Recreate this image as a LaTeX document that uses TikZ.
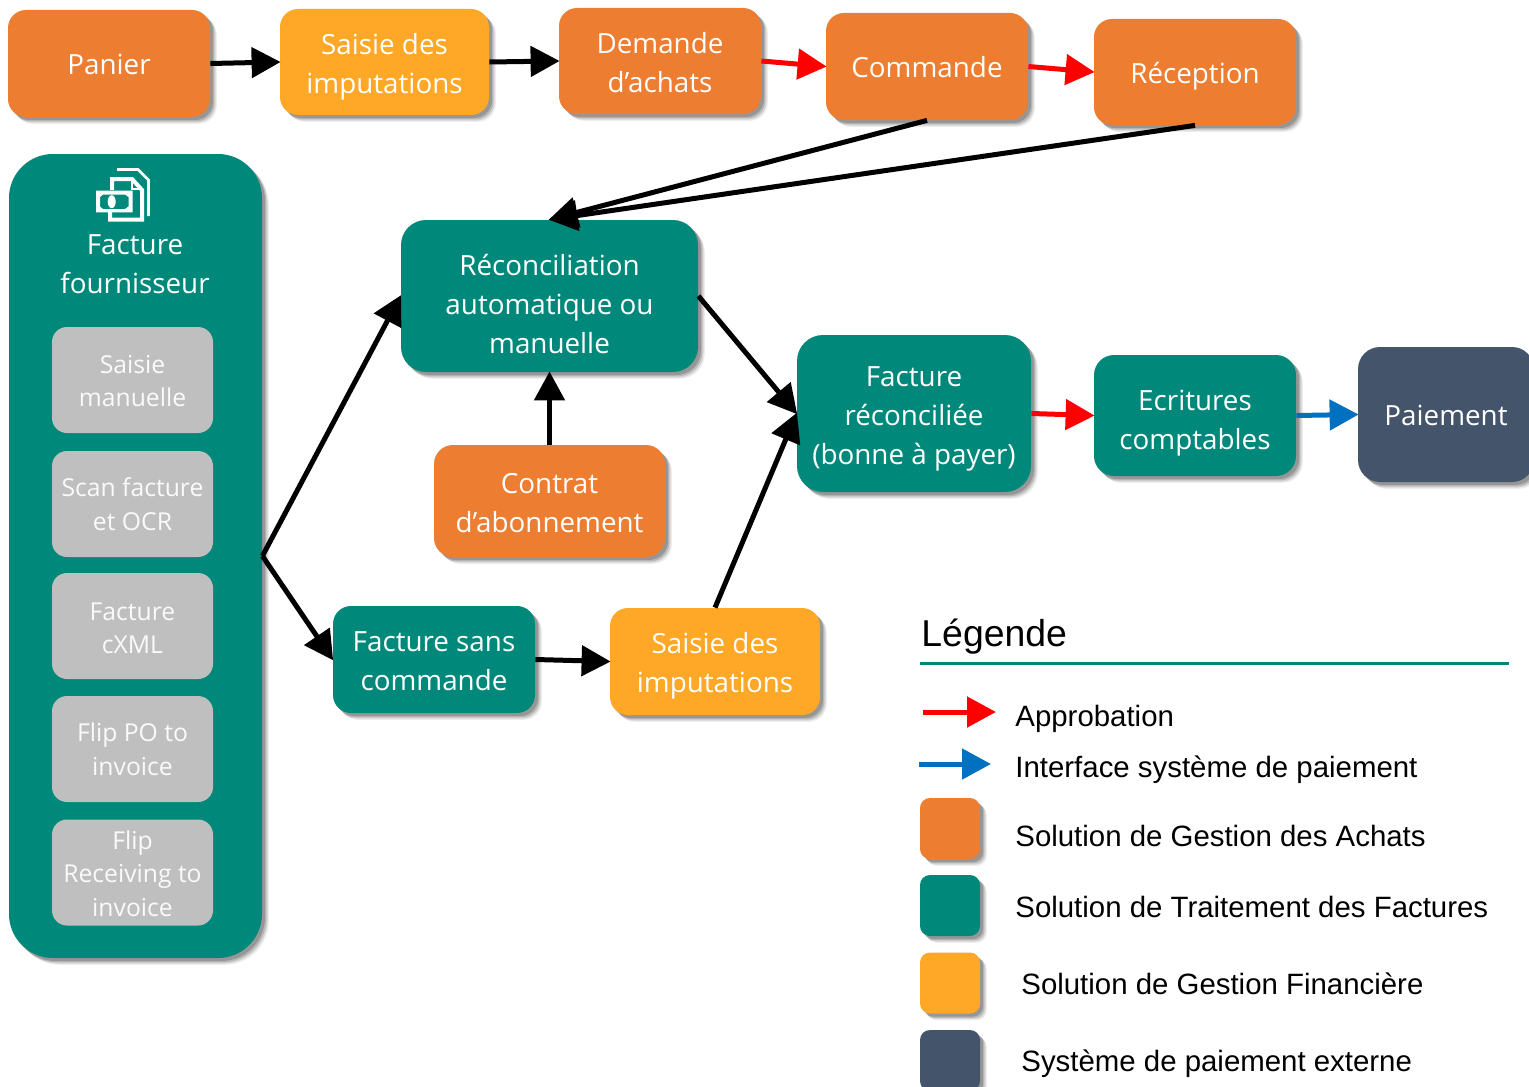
\documentclass[tikz,border=0pt]{standalone}
\usepackage{fontspec}
\setmainfont{Open Sans}
\newfontfamily\legfont{Liberation Sans}
\usetikzlibrary{arrows.meta,shadows}
\definecolor{achat}{HTML}{ED7D31}
\definecolor{trait}{HTML}{00897A}
\definecolor{fina}{HTML}{FFA726}
\definecolor{ext}{HTML}{44546A}
\definecolor{gris}{HTML}{BFBFBF}
\definecolor{bleu}{HTML}{0070C0}
\newcommand{\dn}[2]{\raisebox{-#1}[\height][\depth]{\begin{tabular}{@{}c@{}}#2\end{tabular}}}
\tikzset{
	soft/.style={drop shadow={shadow xshift=3.4pt,shadow yshift=-3.4pt,opacity=.07,fill=black},drop shadow={shadow xshift=2.8pt,shadow yshift=-2.8pt,opacity=.1,fill=black},drop shadow={shadow xshift=2.2pt,shadow yshift=-2.2pt,opacity=.14,fill=black},drop shadow={shadow xshift=1.5pt,shadow yshift=-1.5pt,opacity=.18,fill=black}},
	box/.style={soft,rounded corners=9pt,align=center,text=white,inner sep=0pt,font=\fontsize{13.9}{19.5}\selectfont},
	smallbox/.style={rounded corners=7.5pt,fill=gris,align=center,text=white!92!gris,inner sep=0pt,minimum width=80.5pt,minimum height=53pt,font=\fontsize{12.35}{16.8}\selectfont},
	swatch/.style={soft,rounded corners=5pt,minimum width=30pt,minimum height=30.5pt,inner sep=0pt},
	legtext/.style={anchor=west,inner sep=0pt,font=\legfont\fontsize{14.7}{18}\selectfont},
	flow/.style={-{Triangle[length=14.5pt,width=15pt]},line width=2.5pt,shorten >=-.5pt},
	oflow/.style={flow,color=red},
	bflow/.style={flow,color=bleu}
}
\begin{document}
\begin{tikzpicture}[x=.5pt,y=-.5pt]
	\useasboundingbox (0,0) rectangle (1529,1086);
	\node (panier) at (109,63.5) [box,fill=achat,minimum width=101pt,minimum height=53.5pt] {\dn{1.5pt}{Panier}};
	\node (saisiea) at (384.5,62) [box,fill=fina,minimum width=104.5pt,minimum height=53pt] {\dn{2pt}{Saisie des\\imputations}};
	\node (demande) at (660,61) [box,fill=achat,minimum width=101pt,minimum height=53pt] {\dn{2pt}{Demande\\d’achats}};
	\node (commande) at (927,66.5) [box,fill=achat,minimum width=101pt,minimum height=53.5pt] {\dn{1.5pt}{Commande}};
	\node (reception) at (1195,72) [box,fill=achat,minimum width=101pt,minimum height=53pt] {\dn{2pt}{Réception}};
	\node (fournisseur) at (135.5,556) [box,fill=trait,rounded corners=22pt,minimum width=126.5pt,minimum height=402pt] {};
	\node (titre) at (135,264) [inner sep=0pt,align=center,text=white,font=\fontsize{13.9}{19.5}\selectfont] {Facture\\fournisseur};
	\node (manuelle) at (132.5,380) [smallbox] {\dn{1.7pt}{Saisie\\manuelle}};
	\node (scan) at (132.5,504) [smallbox] {\dn{1.5pt}{Scan facture\\et OCR}};
	\node (cxml) at (132.5,626) [smallbox] {\dn{2.2pt}{Facture\\cXML}};
	\node (flippo) at (132.5,749) [smallbox] {Flip PO to\\invoice};
	\node (flipgr) at (132.5,872.5) [smallbox] {\dn{1.8pt}{Flip\\Receiving to\\invoice}};
	\node (recon) at (549.5,296) [box,fill=trait,rounded corners=12.5pt,minimum width=148.5pt,minimum height=76pt] {\dn{5.5pt}{Réconciliation\\automatique ou\\manuelle}};
	\node (contrat) at (549.5,501) [box,fill=achat,rounded corners=9.5pt,minimum width=115.5pt,minimum height=56pt] {\dn{2pt}{Contrat\\d’abonnement}};
	\node (sans) at (434,659.5) [box,fill=trait,minimum width=101pt,minimum height=53.5pt] {\dn{2pt}{Facture sans\\commande}};
	\node (saisieb) at (715,661.5) [box,fill=fina,minimum width=105pt,minimum height=53.5pt] {\dn{2pt}{Saisie des\\imputations}};
	\node (facrec) at (914,413.5) [box,fill=trait,rounded corners=13pt,minimum width=117pt,minimum height=78.5pt] {\dn{2.25pt}{Facture\\réconciliée\\(bonne à payer)}};
	\node (ecritures) at (1195,415.5) [box,fill=trait,rounded corners=10pt,minimum width=101pt,minimum height=60.5pt] {\dn{3.5pt}{Ecritures\\comptables}};
	\node (paiement) at (1446,414.5) [box,fill=ext,rounded corners=11pt,minimum width=88pt,minimum height=67.5pt] {\dn{1.5pt}{Paiement}};
	\path[flow]
		(panier.east) edge (saisiea.west)
		(saisiea.east) edge (demande.west)
		(commande.south) edge (recon.north)
		(reception.south) edge (recon.north)
		(fournisseur.east) edge (recon.west) edge (sans.west)
		(contrat.north) edge (recon.south)
		(recon.east) edge (facrec.west)
		(sans.east) edge (saisieb.west)
		(saisieb.north) edge (facrec.west);
	\path[oflow]
		(demande.east) edge (commande.west)
		(commande.east) edge (reception.west)
		(facrec.east) edge (ecritures.west);
	\path[bflow]
		(ecritures.east) edge (paiement.west);
	\draw[white,line width=1.3pt,line join=miter]
		(117,169.5) -- (138,169.5) -- (148.5,180) -- (148.5,216);
	\draw[white,line width=2pt,line join=miter]
		(112,190) -- (112,179) -- (132,179) -- (142,190) -- (142,219.5) -- (110,219.5) -- (110,212);
	\draw[white,line width=1pt] (132,179) -- (132,189) -- (142,189);
	\fill[white,even odd rule]
		(96,190.7) rectangle (132.7,212.3)
		(100,197) -- (103,194.5) -- (125,194.5) -- (128.5,197) -- (128.5,206.5) -- (125,209) -- (103,209) -- (100,206.5) -- cycle;
	\fill[white] (111.7,201.7) ellipse [x radius=4,y radius=6.5];
	\node (legende) at (921,637) [legtext,font=\legfont\fontsize{18.7}{22}\selectfont] {Légende};
	\coordinate (ruleg) at (920,663.5);
	\coordinate (ruled) at (1509,663.5);
	\draw[trait,line width=1.8pt] (ruleg) -- (ruled);
	\coordinate (rouged) at (923,712);
	\coordinate (rougef) at (995,712);
	\coordinate (bleud) at (919,764);
	\coordinate (bleuf) at (990,764);
	\path[oflow] (rouged) edge (rougef);
	\path[bflow] (bleud) edge (bleuf);
	\node (swa) at (950,828.5) [swatch,fill=achat] {};
	\node (swb) at (950,905.5) [swatch,fill=trait] {};
	\node (swc) at (950,983) [swatch,fill=fina] {};
	\node (swd) at (950,1060.5) [swatch,fill=ext] {};
	\node (lega) at (1015,719) [legtext] {Approbation};
	\node (legb) at (1015,770) [legtext] {Interface système de paiement};
	\node (legc) at (1015,836) [legtext] {Solution de Gestion des Achats};
	\node (legd) at (1015,907) [legtext] {Solution de Traitement des Factures};
	\node (lege) at (1021,984) [legtext] {Solution de Gestion Financière};
	\node (legf) at (1021,1064) [legtext] {Système de paiement externe};
\end{tikzpicture}
\end{document}
